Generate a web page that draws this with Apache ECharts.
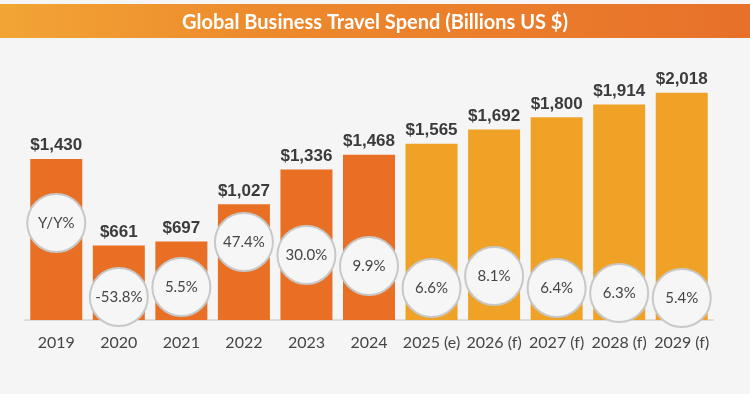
<!DOCTYPE html>
<html>
<head>
<meta charset="utf-8">
<script src="https://cdn.jsdelivr.net/npm/echarts@6/dist/echarts.min.js"></script>
<style>
html,body{margin:0;padding:0;background:#f5f5f5;}
#chart{width:750px;height:394px;}
</style>
</head>
<body>
<div id="chart"></div>
<script>
var categories = ['2019','2020','2021','2022','2023','2024','2025 (e)','2026 (f)','2027 (f)','2028 (f)','2029 (f)'];
var spend = [1430, 661, 697, 1027, 1336, 1468, 1565, 1692, 1800, 1914, 2018];
var yoyLabels = ['Y/Y%','-53.8%','5.5%','47.4%','30.0%','9.9%','6.6%','8.1%','6.4%','6.3%','5.4%'];
// vertical placement of the Y/Y circles, in axis (billions) units
var circleLevel = [861, 204, 293, 693, 577, 480, 284, 391, 284, 240, 195];
var forecastFrom = 6;

var colorActual = '#e96f25';
var colorForecast = '#f0a226';

var chart = echarts.init(document.getElementById('chart'));
chart.setOption({
  backgroundColor: '#f5f5f5',
  animation: false,
  graphic: [{
    type: 'rect',
    left: 0, top: 4,
    shape: {width: 750, height: 34},
    style: {
      fill: new echarts.graphic.LinearGradient(0, 0, 1, 0, [
        {offset: 0, color: '#f2a535'},
        {offset: 0.35, color: '#ed8a2c'},
        {offset: 1, color: '#e8702a'}
      ])
    },
    z: -1
  }],
  title: {
    text: 'Global Business Travel Spend (Billions US $)',
    left: 'center',
    top: 8,
    textStyle: {color: '#ffffff', fontFamily: 'Lato', fontWeight: 'bold', fontSize: 20}
  },
  grid: {left: 25, right: 37, top: 38.5, bottom: 74},
  xAxis: {
    type: 'category',
    data: categories,
    axisLine: {lineStyle: {color: '#dcdcdc', width: 2}},
    axisTick: {show: false},
    axisLabel: {color: '#454545', fontFamily: 'Lato', fontSize: 16, margin: 15, interval: 0}
  },
  yAxis: {
    type: 'value', min: 0, max: 2500,
    show: false,
    splitLine: {show: false}
  },
  series: [{
    type: 'bar',
    barWidth: 52,
    data: spend.map(function (v, i) {
      return {value: v, itemStyle: {color: i >= forecastFrom ? colorForecast : colorActual}};
    }),
    label: {
      show: true,
      position: 'top',
      distance: 5,
      formatter: function (p) { return '$' + p.value.toLocaleString('en-US'); },
      color: '#3b3b3b',
      fontFamily: 'Liberation Sans, Arial',
      fontWeight: 'bold',
      fontSize: 17
    },
    z: 2
  }, {
    type: 'scatter',
    symbol: 'circle',
    symbolSize: 58,
    data: circleLevel.map(function (v, i) { return [i, v]; }),
    itemStyle: {color: '#f6f6f6', borderColor: '#c8c8c8', borderWidth: 2, opacity: 1},
    label: {
      show: true,
      position: 'inside',
      formatter: function (p) { return yoyLabels[p.dataIndex]; },
      color: '#454545',
      fontFamily: 'Lato',
      fontSize: 15
    },
    z: 3
  }]
});
</script>
</body>
</html>
